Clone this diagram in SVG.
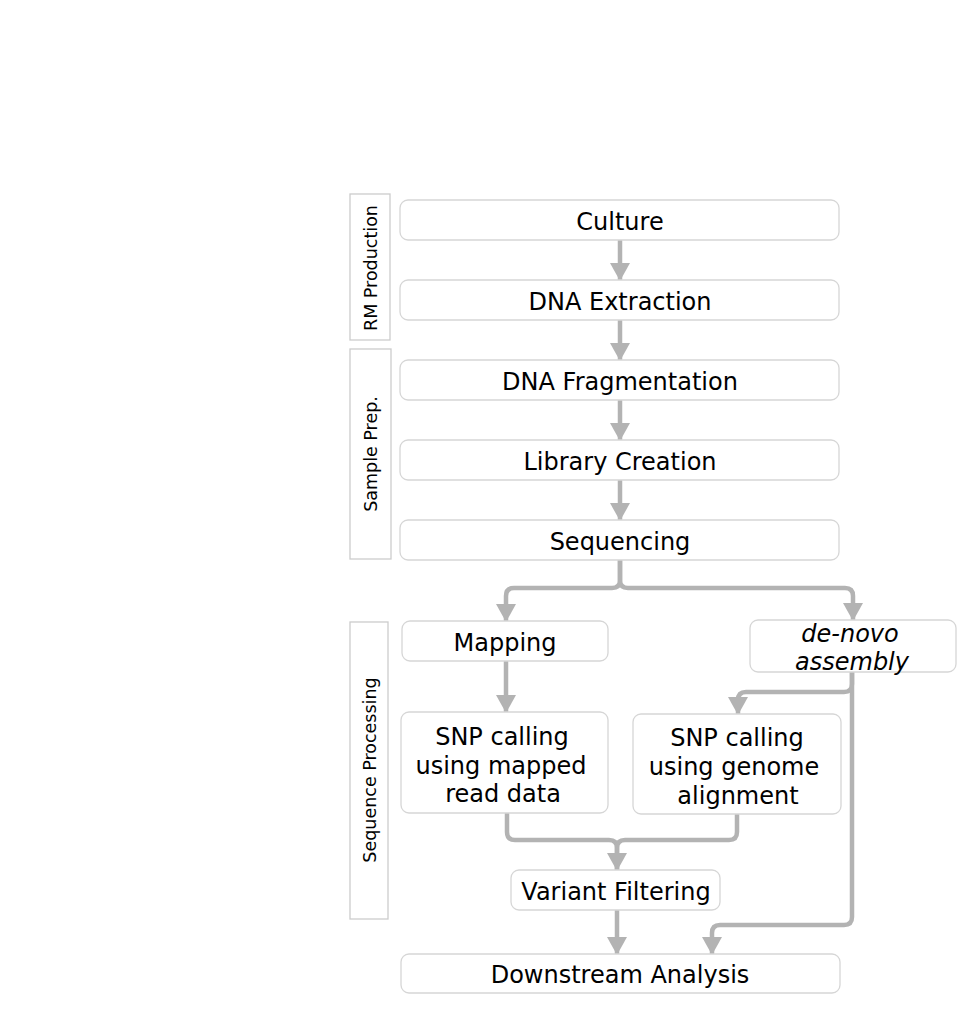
<svg xmlns="http://www.w3.org/2000/svg" width="977" height="1013" viewBox="0 0 977 1013">
<style>
.box{fill:#fff;stroke:#d6d6d6;stroke-width:1.3}
.side{fill:#fff;stroke:#cccccc;stroke-width:1.3}
.t{font-family:"DejaVu Sans",Verdana,sans-serif;font-size:24px;fill:#000;text-anchor:middle}
.it{font-style:italic}
.s{font-family:"DejaVu Sans",Verdana,sans-serif;font-size:17.5px;fill:#000;text-anchor:middle}
.c{fill:none;stroke:#b3b3b3;stroke-width:4.5}
</style>
<defs>
<marker id="ah" viewBox="0 0 18 20" refX="17" refY="10" markerWidth="18" markerHeight="20" markerUnits="userSpaceOnUse" orient="auto">
<path d="M0,0 L18,10 L0,20 z" fill="#b3b3b3"/>
</marker>
</defs>
<rect width="977" height="1013" fill="#fff"/>
<g id="phases">
<g id="rm-production"><rect class="side" x="350" y="194" width="40" height="146"/><text class="s" transform="translate(377,268) rotate(-90)">RM Production</text></g>
<g id="sample-prep"><rect class="side" x="350" y="349" width="41" height="210"/><text class="s" transform="translate(377,454) rotate(-90)">Sample Prep.</text></g>
<g id="sequence-processing"><rect class="side" x="350" y="622" width="38" height="297"/><text class="s" transform="translate(376,770) rotate(-90)">Sequence Processing</text></g>
</g>
<g id="connectors">
<path class="c" d="M620,240 V280" marker-end="url(#ah)"/>
<path class="c" d="M620,320 V360" marker-end="url(#ah)"/>
<path class="c" d="M620,400 V440" marker-end="url(#ah)"/>
<path class="c" d="M620,480 V520" marker-end="url(#ah)"/>
<path class="c" d="M620,560 V580 Q620,588 612,588 H514 Q506,588 506,596 V621" marker-end="url(#ah)"/>
<path class="c" d="M620,560 V580 Q620,588 628,588 H845 Q853,588 853,596 V620" marker-end="url(#ah)"/>
<path class="c" d="M506,661 V712" marker-end="url(#ah)"/>
<path class="c" d="M852,672 V684 Q852,692 844,692 H746 Q738,692 738,700 V714" marker-end="url(#ah)"/>
<path class="c" d="M852,672 V917 Q852,925 844,925 H720 Q712,925 712,933 V954" marker-end="url(#ah)"/>
<path class="c" d="M507,813 V832 Q507,840 515,840 H609 Q617,840 617,848 V870" marker-end="url(#ah)"/>
<path class="c" d="M737,814 V832 Q737,840 729,840 H625 Q617,840 617,848 V870"/>
<path class="c" d="M617,910 V954" marker-end="url(#ah)"/>
</g>
<g id="culture"><rect class="box" x="400" y="200" width="439" height="40" rx="8"/><text class="t" x="620" y="230">Culture</text></g>
<g id="dna-extraction"><rect class="box" x="400" y="280" width="439" height="40" rx="8"/><text class="t" x="620" y="310">DNA Extraction</text></g>
<g id="dna-fragmentation"><rect class="box" x="400" y="360" width="439" height="40" rx="8"/><text class="t" x="620" y="390">DNA Fragmentation</text></g>
<g id="library-creation"><rect class="box" x="400" y="440" width="439" height="40" rx="8"/><text class="t" x="620" y="470">Library Creation</text></g>
<g id="sequencing"><rect class="box" x="400" y="520" width="439" height="40" rx="8"/><text class="t" x="620" y="550">Sequencing</text></g>
<g id="mapping"><rect class="box" x="402" y="621" width="206" height="40" rx="8"/><text class="t" x="505" y="651">Mapping</text></g>
<g id="de-novo-assembly"><rect class="box" x="750" y="620" width="206" height="52" rx="8"/><text class="t it" x="850" y="642">de-novo</text><text class="t it" x="852" y="670">assembly</text></g>
<g id="snp-mapped"><rect class="box" x="401" y="712" width="207" height="101" rx="8"/><text class="t" x="502" y="745">SNP calling</text><text class="t" x="501" y="774">using mapped</text><text class="t" x="503" y="802">read data</text></g>
<g id="snp-genome"><rect class="box" x="633" y="714" width="208" height="100" rx="8"/><text class="t" x="737" y="746">SNP calling</text><text class="t" x="734" y="775">using genome</text><text class="t" x="738" y="804">alignment</text></g>
<g id="variant-filtering"><rect class="box" x="511" y="870" width="209" height="40" rx="8"/><text class="t" x="616" y="900">Variant Filtering</text></g>
<g id="downstream-analysis"><rect class="box" x="401" y="954" width="439" height="39" rx="8"/><text class="t" x="620" y="983">Downstream Analysis</text></g>
</svg>
